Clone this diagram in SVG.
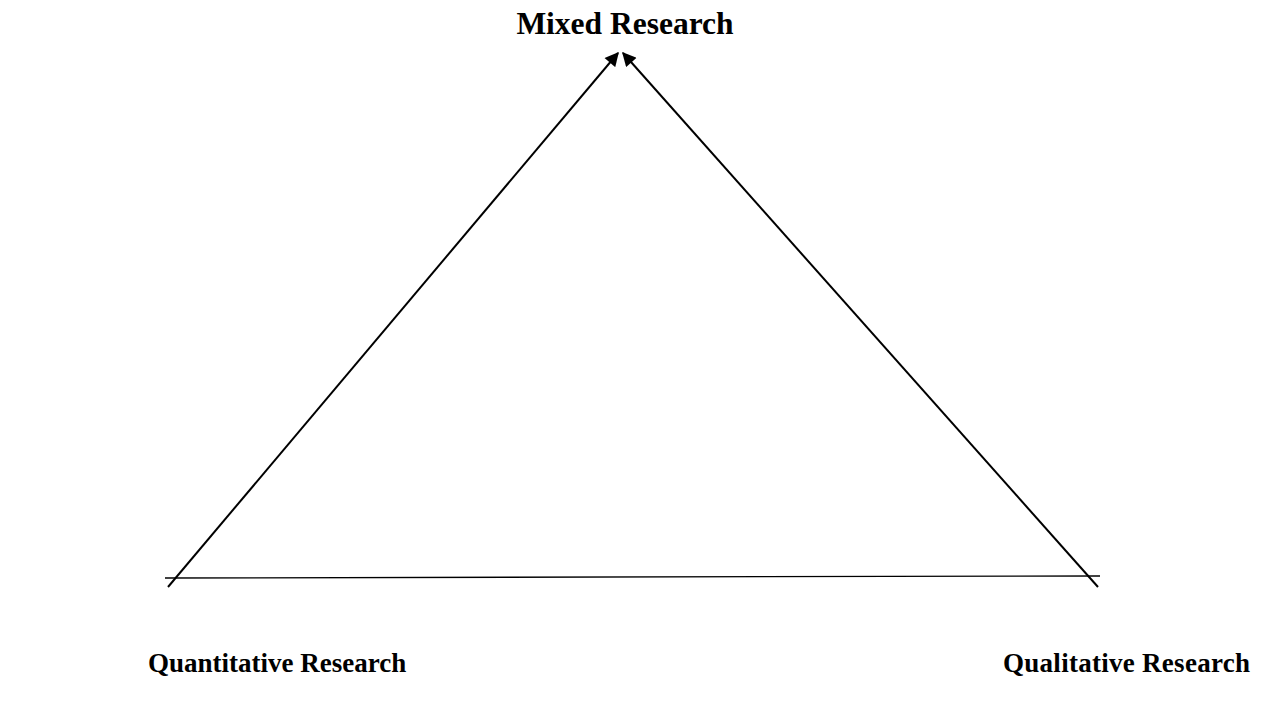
<svg xmlns="http://www.w3.org/2000/svg" width="1265" height="706" viewBox="0 0 1265 706">
<style>
.lbl{font-family:"Liberation Serif","Times New Roman",serif;font-weight:bold;font-size:27px;fill:#000}
.big{font-size:31.5px}
.ln{stroke:#000;stroke-width:2;fill:none}
.base{stroke:#000;stroke-width:1.3;fill:none}
</style>
<defs>
<marker id="ah" viewBox="0 0 10 10" refX="9" refY="5" markerWidth="7.5" markerHeight="7" markerUnits="strokeWidth" orient="auto">
<path d="M0,0 L10,5 L0,10 z" fill="#000"/>
</marker>
</defs>
<rect width="1265" height="706" fill="#fff"/>
<g id="connectors">
<line class="ln" x1="168" y1="587" x2="618" y2="53" marker-end="url(#ah)"/>
<line class="ln" x1="1098" y1="587" x2="623" y2="53" marker-end="url(#ah)"/>
<line class="base" x1="165" y1="578" x2="1100" y2="576"/>
</g>
<g id="mixed"><text class="lbl big" x="625" y="34" text-anchor="middle">Mixed Research</text></g>
<g id="quantitative"><text class="lbl" x="148" y="672">Quantitative Research</text></g>
<g id="qualitative"><text class="lbl" x="1003" y="672" textLength="247">Qualitative Research</text></g>
</svg>
